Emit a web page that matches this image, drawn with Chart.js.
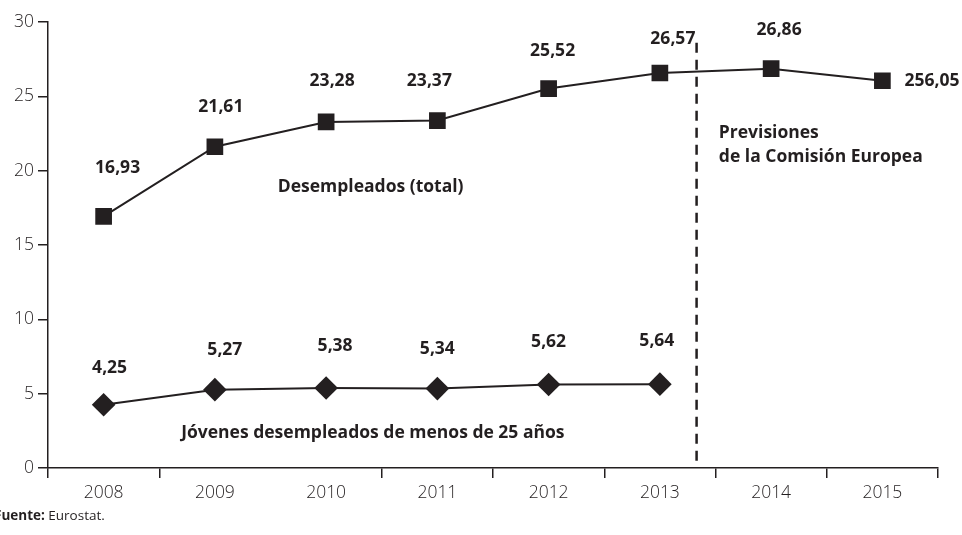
<!DOCTYPE html>
<html>
<head>
<meta charset="utf-8">
<script src="https://cdn.jsdelivr.net/npm/chart.js@4.4.1/dist/chart.umd.min.js"></script>
<style>
html,body{margin:0;padding:0;background:#fff;}
#wrap{width:962px;height:535px;position:relative;}
</style>
</head>
<body>
<div id="wrap"><canvas id="c" width="962" height="535"></canvas></div>
<script>
const years = ["2008","2009","2010","2011","2012","2013","2014","2015"];
const desempleados = [16.93, 21.61, 23.28, 23.37, 25.52, 26.57, 26.86, 26.05];
const desempleadosLabels = ["16,93","21,61","23,28","23,37","25,52","26,57","26,86","256,05"];
const jovenes = [4.25, 5.27, 5.38, 5.34, 5.62, 5.64, null, null];
const jovenesLabels = ["4,25","5,27","5,38","5,34","5,62","5,64"];
const yTicks = [0, 5, 10, 15, 20, 25, 30];
const forecastBoundary = 5.33; // category index where the forecast line sits

const INK = '#231f20';
const FONT = '"Open Sans", "Noto Sans", sans-serif';

const overlay = {
  id: 'overlay',
  afterDatasetsDraw(chart) {
    const ctx = chart.ctx;
    const xs = chart.scales.x, ys = chart.scales.y;
    ctx.save();
    // forecast dashed line
    const fx = xs.getPixelForValue(forecastBoundary);
    ctx.strokeStyle = INK;
    ctx.lineWidth = 2.5;
    ctx.setLineDash([10, 7]);
    ctx.beginPath();
    ctx.moveTo(fx, ys.getPixelForValue(28.6));
    ctx.lineTo(fx, ys.getPixelForValue(0));
    ctx.stroke();
    ctx.setLineDash([]);

    // data labels
    ctx.fillStyle = INK;
    ctx.font = 'bold 17.5px ' + FONT;
    ctx.textBaseline = 'middle';
    const m0 = chart.getDatasetMeta(0).data;
    const off0 = [[14,-48],[6,-40],[6,-41],[-8,-40],[4,-38],[13,-34],[8,-39]];
    m0.forEach((p, i) => {
      if (i < 7) {
        ctx.textAlign = 'center';
        ctx.fillText(desempleadosLabels[i], p.x + off0[i][0], p.y + off0[i][1]);
      } else {
        ctx.textAlign = 'left';
        ctx.fillText(desempleadosLabels[i], p.x + 22, p.y);
      }
    });
    const m1 = chart.getDatasetMeta(1).data;
    const off1 = [[6,-37],[10,-40],[9,-42],[0,-40],[0,-42],[-3,-43]];
    jovenesLabels.forEach((t, i) => {
      const p = m1[i];
      ctx.textAlign = 'center';
      ctx.fillText(t, p.x + off1[i][0], p.y + off1[i][1]);
    });

    // series annotations
    ctx.textAlign = 'center';
    ctx.fillText('Desempleados (total)', xs.getPixelForValue(2.4), ys.getPixelForValue(18.9));
    ctx.fillText('Jóvenes desempleados de menos de 25 años', xs.getPixelForValue(2.42), ys.getPixelForValue(2.35));
    ctx.textAlign = 'left';
    ctx.fillText('Previsiones', xs.getPixelForValue(5.53), ys.getPixelForValue(22.5));
    ctx.fillText('de la Comisión Europea', xs.getPixelForValue(5.53), ys.getPixelForValue(20.9));

    // source
    ctx.textBaseline = 'alphabetic';
    ctx.font = 'bold 13.5px ' + FONT;
    ctx.fillText('Fuente:', -6, 520);
    const w = ctx.measureText('Fuente: ').width;
    ctx.font = '13.5px ' + FONT;
    ctx.fillText('Eurostat.', -6 + w, 520);
    ctx.restore();
  }
};

new Chart(document.getElementById('c'), {
  type: 'line',
  data: {
    labels: years,
    datasets: [
      {
        data: desempleados,
        borderColor: INK,
        backgroundColor: INK,
        borderWidth: 2,
        pointStyle: 'rect',
        pointRadius: 11.8,
        pointBorderWidth: 0,
        tension: 0,
        fill: false
      },
      {
        data: jovenes,
        borderColor: INK,
        backgroundColor: INK,
        borderWidth: 2,
        pointStyle: 'rectRot',
        pointRadius: 11.8,
        pointBorderWidth: 0,
        tension: 0,
        fill: false,
        spanGaps: false
      }
    ]
  },
  options: {
    responsive: false,
    animation: false,
    devicePixelRatio: 1,
    layout: { padding: { top: 22, right: 24, left: 0, bottom: 0 } },
    plugins: { legend: { display: false }, tooltip: { enabled: false } },
    scales: {
      x: {
        type: 'category',
        offset: true,
        grid: {
          display: true,
          offset: true,
          drawOnChartArea: false,
          drawTicks: true,
          tickLength: 10,
          lineWidth: 1.5,
          color: (c) => (c.index === 2 ? 'rgba(0,0,0,0)' : INK)
        },
        border: { display: true, color: INK, width: 1.5 },
        ticks: {
          color: INK,
          font: { family: FONT, size: 17.5, weight: '300' },
          padding: 5,
          maxRotation: 0,
          autoSkip: false
        },
        afterFit: (s) => { s.height = 67; }
      },
      y: {
        min: 0,
        max: 30,
        afterBuildTicks: (s) => { s.ticks = yTicks.map(v => ({ value: v })); },
        grid: {
          display: true,
          drawOnChartArea: false,
          drawTicks: true,
          tickLength: 10,
          lineWidth: 1.5,
          color: INK
        },
        border: { display: true, color: INK, width: 1.5 },
        ticks: {
          color: INK,
          font: { family: FONT, size: 17.5, weight: '300' },
          padding: 4
        },
        afterFit: (s) => { s.width = 48; }
      }
    }
  },
  plugins: [overlay]
});
</script>
</body>
</html>
